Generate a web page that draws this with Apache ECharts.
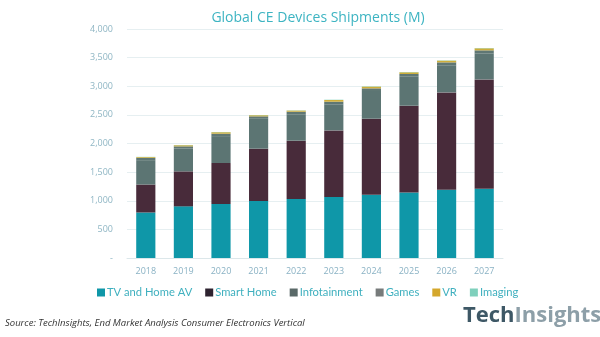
<!DOCTYPE html>
<html>
<head>
<meta charset="utf-8">
<script src="https://cdn.jsdelivr.net/npm/echarts@6/dist/echarts.min.js"></script>
<style>html,body{margin:0;padding:0;background:#fff}#c{width:600px;height:337px}</style>
</head>
<body>
<div id="c"></div>
<script>
const years = ['2018','2019','2020','2021','2022','2023','2024','2025','2026','2027'];
const tvHomeAV = [795, 902, 943, 996, 1031, 1066, 1106, 1146, 1193, 1210];
const smartHome = [488, 611, 716, 913, 1018, 1163, 1327, 1514, 1700, 1910];
const infotainment = [426, 397, 470, 522, 462, 456, 484, 506, 474, 455];
const games = [40, 40, 42, 43, 44, 45, 46, 48, 50, 52];
const vr = [14, 20, 26, 20, 20, 30, 30, 30, 30, 36];
const imaging = [4, 4, 4, 4, 4, 5, 5, 5, 5, 5];
const yTicks = [0, 500, 1000, 1500, 2000, 2500, 3000, 3500, 4000];

const seriesDefs = [
  ['TV and Home AV', tvHomeAV, '#0f97a8', '#0f97a8'],
  ['Smart Home', smartHome, '#482b3a', '#2e2330'],
  ['Infotainment', infotainment, '#5c7573', '#5a6968'],
  ['Games', games, '#5f7774', '#777b7b'],
  ['VR', vr, '#cfae3a', '#d4a72c'],
  ['Imaging', imaging, '#7fd0bc', '#7fd0bc']
];

const chart = echarts.init(document.getElementById('c'));
chart.setOption({
  animation: false,
  backgroundColor: '#fff',
  textStyle: { fontFamily: 'Open Sans' },
  grid: { left: 127, right: 97, top: 29, bottom: 79, containLabel: false },
  xAxis: {
    type: 'category', data: years,
    axisTick: { show: false },
    axisLine: { lineStyle: { color: '#dce7ea' } },
    axisLabel: { color: '#8ab2c4', fontSize: 9, margin: 9 }
  },
  yAxis: {
    type: 'value', min: yTicks[0], max: yTicks[yTicks.length - 1], interval: 500,
    axisLine: { show: false }, axisTick: { show: false },
    splitLine: { lineStyle: { color: '#e6eff1' } },
    axisLabel: {
      color: '#8fb6c4', fontSize: 9, margin: 14,
      formatter: v => v === 0 ? '-' : v.toLocaleString('en-US')
    }
  },
  legend: {
    left: 92, top: 282, width: 500, padding: 5, itemWidth: 8, itemHeight: 8, itemGap: 13,
    icon: 'rect',
    textStyle: { color: '#3fb0bf', fontSize: 11.2, fontFamily: 'Lato', padding: [0, 0, 0, -3] },
    data: seriesDefs.map(d => ({ name: d[0], itemStyle: { color: d[3] } }))
  },
  series: seriesDefs.map(d => ({
    name: d[0], type: 'bar', stack: 'total', data: d[1],
    barWidth: '51%', itemStyle: { color: d[2] }
  })),
  graphic: [
    { type: 'text', x: 318, y: 11,
      style: { text: 'Global CE Devices Shipments (M)', textAlign: 'center', fill: '#3db4c2', fontSize: 14, fontFamily: 'Open Sans' } },
    { type: 'text', x: 5, y: 318,
      style: { text: 'Source: TechInsights, End Market Analysis Consumer Electronics Vertical', fill: '#333', fontSize: 9.5, fontStyle: 'italic', fontFamily: 'Open Sans' } },
    { type: 'text', x: 463, y: 305,
      style: { text: '{a|Tech}{b|Insights}', rich: {
        a: { fill: '#3e5866', fontSize: 22, fontWeight: 'bold', fontFamily: 'Open Sans' },
        b: { fill: '#8d9fa8', fontSize: 22, fontWeight: 'bold', fontFamily: 'Open Sans' } } } }
  ]
});
</script>
</body>
</html>
